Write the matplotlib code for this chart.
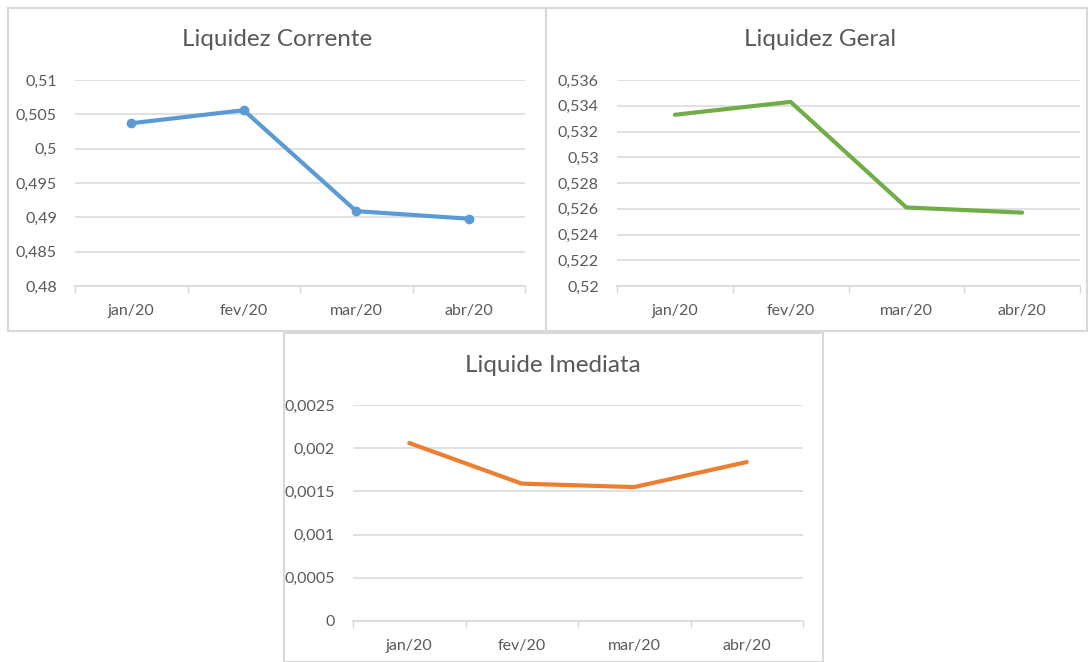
import matplotlib
matplotlib.use("Agg")
import matplotlib.pyplot as plt
from matplotlib.patches import Rectangle

plt.rcParams['font.family'] = ['Lato', 'DejaVu Sans']

months = ["jan/20", "fev/20", "mar/20", "abr/20"]

corrente = [0.5037, 0.5056, 0.4909, 0.4898]
geral = [0.5333, 0.5343, 0.5261, 0.5257]
imediata = [0.00206, 0.00159, 0.00155, 0.00184]

corrente_ticks = [0.48, 0.485, 0.49, 0.495, 0.5, 0.505, 0.51]
corrente_labels = ["0,48", "0,485", "0,49", "0,495", "0,5", "0,505", "0,51"]
geral_ticks = [0.52, 0.522, 0.524, 0.526, 0.528, 0.53, 0.532, 0.534, 0.536]
geral_labels = ["0,52", "0,522", "0,524", "0,526", "0,528", "0,53", "0,532", "0,534", "0,536"]
imediata_ticks = [0, 0.0005, 0.001, 0.0015, 0.002, 0.0025]
imediata_labels = ["0", "0,0005", "0,001", "0,0015", "0,002", "0,0025"]

W, H = 1088, 662
fig = plt.figure(figsize=(W / 100, H / 100), dpi=100)
fig.patch.set_facecolor("white")

GRID = "#D9D9D9"
TXT = "#595959"


def px_axes(left, right, top, bottom):
    return fig.add_axes([left / W, (H - bottom) / H, (right - left) / W, (bottom - top) / H])


def border(x0, y0, x1, y1):
    fig.patches.append(Rectangle((x0 / W, (H - y1) / H), (x1 - x0) / W, (y1 - y0) / H,
                                 transform=fig.transFigure, fill=False,
                                 edgecolor=GRID, linewidth=1.5, zorder=0))


def panel(ax, values, ticks, labels, color, title, title_xy, marker=None):
    x = list(range(len(months)))
    ax.plot(x, values, color=color, linewidth=3.0, solid_capstyle='round',
            marker=marker, markersize=6, zorder=3, clip_on=False)
    ax.set_xlim(-0.5, len(months) - 0.5)
    ax.set_ylim(ticks[0], ticks[-1])
    ax.set_yticks(ticks)
    ax.set_yticklabels(labels)
    ax.set_xticks(x)
    ax.set_xticklabels(months)
    ax.set_xticks([i - 0.5 for i in range(len(months) + 1)], minor=True)
    ax.tick_params(axis='x', which='major', length=0, pad=13, labelsize=11.5, labelcolor=TXT)
    ax.tick_params(axis='x', which='minor', length=5, width=1, color=GRID, direction='out')
    ax.tick_params(axis='y', length=0, pad=13, labelsize=11.5, labelcolor=TXT)
    for s in ['top', 'right', 'left']:
        ax.spines[s].set_visible(False)
    ax.spines['bottom'].set_color(GRID)
    ax.spines['bottom'].set_linewidth(1.2)
    ax.grid(axis='y', color=GRID, linewidth=1.1)
    ax.set_axisbelow(True)
    fig.text(title_xy[0] / W, (H - title_xy[1]) / H, title, ha='center', va='center',
             fontsize=17.5, color=TXT)


border(8, 8, 546, 331)
border(546, 8, 1087, 331)
border(284, 333, 823, 662)

ax1 = px_axes(75, 525, 80, 286)
panel(ax1, corrente, corrente_ticks, corrente_labels, "#5B9BD5", "Liquidez Corrente", (277, 40), marker='o')

ax2 = px_axes(617, 1080, 80, 286)
panel(ax2, geral, geral_ticks, geral_labels, "#70AD47", "Liquidez Geral", (820, 40))

ax3 = px_axes(353, 803, 405, 621)
panel(ax3, imediata, imediata_ticks, imediata_labels, "#ED7D31", "Liquide Imediata", (553, 365))

fig.savefig("out.png", dpi=100, facecolor="white")
